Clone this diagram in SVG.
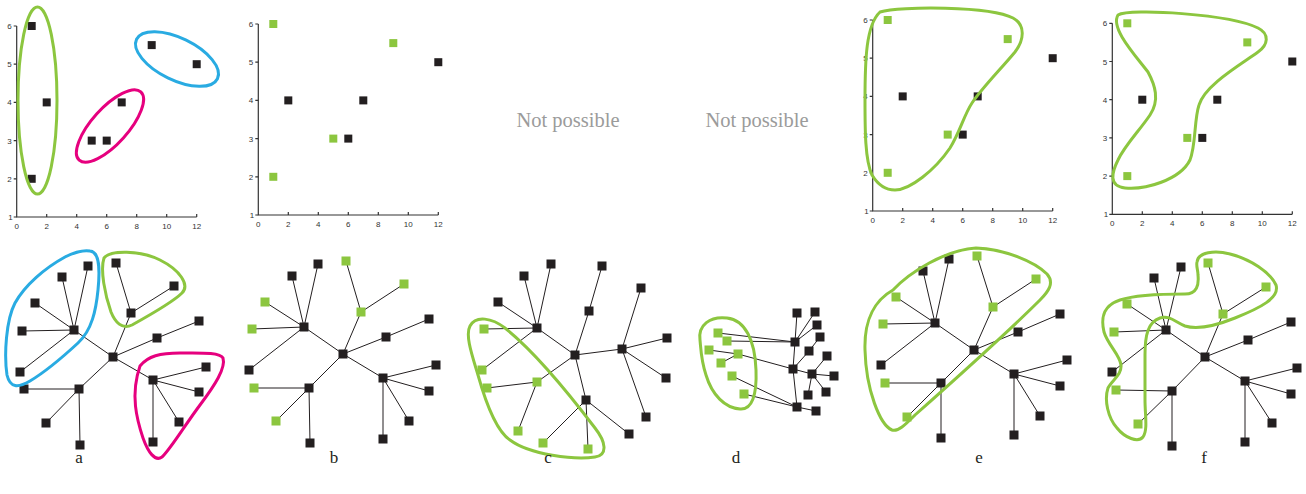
<svg xmlns="http://www.w3.org/2000/svg" xmlns:xlink="http://www.w3.org/1999/xlink" width="1306" height="494" viewBox="0 0 1306 494">
<style>
.ax{stroke:#333;stroke-width:1.2;fill:none}
.tl{font-family:"Liberation Sans",Arial,sans-serif;font-size:8px;fill:#333}
.e{stroke:#231f20;stroke-width:1;fill:none}
.ol{fill:none;stroke-width:3}
.gr{stroke:#8cc63f}
.bl{stroke:#29abe2}
.mg{stroke:#e6007e}
.np{font-family:"Liberation Serif","Times New Roman",serif;font-size:20.5px;fill:#9b9b9b}
.lb{font-family:"Liberation Serif","Times New Roman",serif;font-size:17px;fill:#231f20}
</style>
<defs>
<rect id="sk" x="-4.5" y="-4.5" width="9" height="9" fill="#231f20"/>
<rect id="sg" x="-4.5" y="-4.5" width="9" height="9" fill="#8cc63f"/>
<rect id="tk" x="-4" y="-4" width="8" height="8" fill="#231f20"/>
<rect id="tg" x="-4" y="-4" width="8" height="8" fill="#8cc63f"/>
<g id="axes">
<path class="ax" d="M0,-191 V0 H180"/>
<path class="ax" d="M-3,0H0M-3,-38.2H0M-3,-76.4H0M-3,-114.6H0M-3,-152.8H0M-3,-191H0M30,0V-3M60,0V-3M90,0V-3M120,0V-3M150,0V-3M180,0V-3"/>
<g class="tl" text-anchor="end">
<text x="-4" y="3">1</text><text x="-5" y="-35.2">2</text><text x="-5" y="-73.4">3</text><text x="-5" y="-111.6">4</text><text x="-5" y="-149.8">5</text><text x="-5" y="-188">6</text>
</g>
<g class="tl" text-anchor="middle">
<text x="0" y="12">0</text><text x="30" y="12">2</text><text x="60" y="12">4</text><text x="90" y="12">6</text><text x="120" y="12">8</text><text x="150" y="12">10</text><text x="180" y="12">12</text>
</g>
</g>
</defs>

<!-- Top plots -->
<g id="plot-a" transform="translate(16.7,217)">
<use href="#axes"/>
<g id="a-p1"><use href="#tk" x="15" y="-191"/></g>
<g id="a-p2"><use href="#tk" x="30" y="-114.6"/></g>
<g id="a-p3"><use href="#tk" x="15" y="-38.2"/></g>
<g id="a-p4"><use href="#tk" x="75" y="-76.4"/></g>
<g id="a-p5"><use href="#tk" x="90" y="-76.4"/></g>
<g id="a-p6"><use href="#tk" x="105" y="-114.6"/></g>
<g id="a-p7"><use href="#tk" x="135" y="-171.9"/></g>
<g id="a-p8"><use href="#tk" x="180" y="-152.8"/></g>
</g>
<g id="plot-b" transform="translate(258.3,215)">
<use href="#axes"/>
<g id="b-p1"><use href="#tg" x="15" y="-191"/></g>
<g id="b-p2"><use href="#tg" x="135" y="-171.9"/></g>
<g id="b-p3"><use href="#tg" x="75" y="-76.4"/></g>
<g id="b-p4"><use href="#tg" x="15" y="-38.2"/></g>
<g id="b-p5"><use href="#tk" x="180" y="-152.8"/></g>
<g id="b-p6"><use href="#tk" x="30" y="-114.6"/></g>
<g id="b-p7"><use href="#tk" x="105" y="-114.6"/></g>
<g id="b-p8"><use href="#tk" x="90" y="-76.4"/></g>
</g>
<g id="plot-e" transform="translate(872.7,211)">
<use href="#axes"/>
<g id="e-p1"><use href="#tg" x="15" y="-191"/></g>
<g id="e-p2"><use href="#tg" x="135" y="-171.9"/></g>
<g id="e-p3"><use href="#tg" x="75" y="-76.4"/></g>
<g id="e-p4"><use href="#tg" x="15" y="-38.2"/></g>
<g id="e-p5"><use href="#tk" x="180" y="-152.8"/></g>
<g id="e-p6"><use href="#tk" x="30" y="-114.6"/></g>
<g id="e-p7"><use href="#tk" x="105" y="-114.6"/></g>
<g id="e-p8"><use href="#tk" x="90" y="-76.4"/></g>
</g>
<g id="plot-f" transform="translate(1112.3,214.3)">
<use href="#axes"/>
<g id="f-p1"><use href="#tg" x="15" y="-191"/></g>
<g id="f-p2"><use href="#tg" x="135" y="-171.9"/></g>
<g id="f-p3"><use href="#tg" x="75" y="-76.4"/></g>
<g id="f-p4"><use href="#tg" x="15" y="-38.2"/></g>
<g id="f-p5"><use href="#tk" x="180" y="-152.8"/></g>
<g id="f-p6"><use href="#tk" x="30" y="-114.6"/></g>
<g id="f-p7"><use href="#tk" x="105" y="-114.6"/></g>
<g id="f-p8"><use href="#tk" x="90" y="-76.4"/></g>
</g>

<text class="np" x="568" y="127" text-anchor="middle">Not possible</text>
<text class="np" x="757" y="127" text-anchor="middle">Not possible</text>

<!-- Connectors -->
<g id="connectors" class="e">
<path id="edges-a" d="M113,357L74,330M113,357L131,313M113,357L153,380M113,357L79,389M113,357L157,338M157,338L199,321M74,330L88,266M74,330L62,277M74,330L35,303M74,330L22,331M74,330L20,372M131,313L116,263M131,313L174,286M153,380L206,367M153,380L199,392M153,380L179,422M153,380L153,442M79,389L24,389M79,389L46,423M79,389L80,445"/>
<path id="edges-b" d="M343,354L304,327M343,354L361,312M343,354L383,378M343,354L309,388M343,354L386,337M386,337L429,319M304,327L318,264M304,327L292,276M304,327L265,302M304,327L252,329M304,327L249,370M361,312L346,261M361,312L404,284M383,378L436,365M383,378L429,391M383,378L409,421M383,378L383,439M309,388L254,388M309,388L276,421M309,388L310,443"/>
<path id="edges-c" d="M537,328L575,355M575,355L589,311M589,311L602,266M575,355L622,349M622,349L641,288M622,349L667,338M622,349L666,378M622,349L646,417M575,355L586,400M586,400L629,434M586,400L588,449M586,400L543,443M575,355L537,382M537,382L487,388M537,382L518,431M537,328L524,276M537,328L551,264M537,328L498,302M537,328L484,329M537,328L482,370"/>
<path id="edges-d" d="M795,342L793,369M793,369L797,407M795,342L797,313M795,342L815,312M795,342L817,325M793,369L809,351M809,351L820,337M793,369L812,374M812,374L827,356M812,374L834,376M812,374L826,392M812,374L808,395M797,407L816,411M718,333L795,342M727,341L795,342M709,350L738,354M738,354L721,363M738,354L793,369M732,376L797,407M744,394L797,407"/>
<path id="edges-e" d="M974,350L935,323M974,350L993,307M974,350L1014,374M974,350L941,383M974,350L1018,332M1018,332L1060,314M935,323L949,259M935,323L923,271M935,323L896,297M935,323L883,324M935,323L881,365M993,307L977,256M993,307L1036,279M1014,374L1067,360M1014,374L1060,386M1014,374L1040,416M1014,374L1014,435M941,383L885,383M941,383L907,417M941,383L941,438"/>
<path id="edges-f" d="M1205,357L1166,330M1205,357L1223,314M1205,357L1245,381M1205,357L1172,391M1205,357L1248,340M1248,340L1291,322M1166,330L1181,267M1166,330L1154,278M1166,330L1127,304M1166,330L1114,332M1166,330L1112,372M1223,314L1208,263M1223,314L1266,287M1245,381L1297,368M1245,381L1291,394M1245,381L1272,423M1245,381L1245,442M1172,391L1116,390M1172,391L1138,424M1172,391L1172,446"/>
</g>

<!-- Tree a -->
<g id="tree-a">
<g id="ta-c"><use href="#sk" x="113" y="357"/></g>
<g id="ta-b"><use href="#sk" x="74" y="330"/></g>
<g id="ta-g"><use href="#sk" x="131" y="313"/></g>
<g id="ta-m"><use href="#sk" x="153" y="380"/></g>
<g id="ta-l"><use href="#sk" x="79" y="389"/></g>
<g id="ta-r"><use href="#sk" x="157" y="338"/></g>
<g id="ta-r1"><use href="#sk" x="199" y="321"/></g>
<g id="ta-b1"><use href="#sk" x="88" y="266"/></g>
<g id="ta-b2"><use href="#sk" x="62" y="277"/></g>
<g id="ta-b3"><use href="#sk" x="35" y="303"/></g>
<g id="ta-b4"><use href="#sk" x="22" y="331"/></g>
<g id="ta-b5"><use href="#sk" x="20" y="372"/></g>
<g id="ta-g1"><use href="#sk" x="116" y="263"/></g>
<g id="ta-g2"><use href="#sk" x="174" y="286"/></g>
<g id="ta-m1"><use href="#sk" x="206" y="367"/></g>
<g id="ta-m2"><use href="#sk" x="199" y="392"/></g>
<g id="ta-m3"><use href="#sk" x="179" y="422"/></g>
<g id="ta-m4"><use href="#sk" x="153" y="442"/></g>
<g id="ta-l1"><use href="#sk" x="24" y="389"/></g>
<g id="ta-l2"><use href="#sk" x="46" y="423"/></g>
<g id="ta-l3"><use href="#sk" x="80" y="445"/></g>
</g>

<!-- Tree b -->
<g id="tree-b">
<g id="tb-c"><use href="#sk" x="343" y="354"/></g>
<g id="tb-b"><use href="#sk" x="304" y="327"/></g>
<g id="tb-g"><use href="#sg" x="361" y="312"/></g>
<g id="tb-m"><use href="#sk" x="383" y="378"/></g>
<g id="tb-l"><use href="#sk" x="309" y="388"/></g>
<g id="tb-r"><use href="#sk" x="386" y="337"/></g>
<g id="tb-r1"><use href="#sk" x="429" y="319"/></g>
<g id="tb-b1"><use href="#sk" x="318" y="264"/></g>
<g id="tb-b2"><use href="#sk" x="292" y="276"/></g>
<g id="tb-b3"><use href="#sg" x="265" y="302"/></g>
<g id="tb-b4"><use href="#sg" x="252" y="329"/></g>
<g id="tb-b5"><use href="#sk" x="249" y="370"/></g>
<g id="tb-g1"><use href="#sg" x="346" y="261"/></g>
<g id="tb-g2"><use href="#sg" x="404" y="284"/></g>
<g id="tb-m1"><use href="#sk" x="436" y="365"/></g>
<g id="tb-m2"><use href="#sk" x="429" y="391"/></g>
<g id="tb-m3"><use href="#sk" x="409" y="421"/></g>
<g id="tb-m4"><use href="#sk" x="383" y="439"/></g>
<g id="tb-l1"><use href="#sg" x="254" y="388"/></g>
<g id="tb-l2"><use href="#sg" x="276" y="421"/></g>
<g id="tb-l3"><use href="#sk" x="310" y="443"/></g>
</g>

<!-- Tree c -->
<g id="tree-c">
<g id="tc-a"><use href="#sk" x="537" y="328"/></g>
<g id="tc-c"><use href="#sk" x="575" y="355"/></g>
<g id="tc-d"><use href="#sk" x="589" y="311"/></g>
<g id="tc-d1"><use href="#sk" x="602" y="266"/></g>
<g id="tc-e"><use href="#sk" x="622" y="349"/></g>
<g id="tc-e1"><use href="#sk" x="641" y="288"/></g>
<g id="tc-e2"><use href="#sk" x="667" y="338"/></g>
<g id="tc-e3"><use href="#sk" x="666" y="378"/></g>
<g id="tc-e4"><use href="#sk" x="646" y="417"/></g>
<g id="tc-f"><use href="#sk" x="586" y="400"/></g>
<g id="tc-f1"><use href="#sk" x="629" y="434"/></g>
<g id="tc-f2"><use href="#sg" x="588" y="449"/></g>
<g id="tc-f3"><use href="#sg" x="543" y="443"/></g>
<g id="tc-g"><use href="#sg" x="537" y="382"/></g>
<g id="tc-g1"><use href="#sg" x="487" y="388"/></g>
<g id="tc-g2"><use href="#sg" x="518" y="431"/></g>
<g id="tc-a1"><use href="#sk" x="524" y="276"/></g>
<g id="tc-a2"><use href="#sk" x="551" y="264"/></g>
<g id="tc-a3"><use href="#sk" x="498" y="302"/></g>
<g id="tc-a4"><use href="#sg" x="484" y="329"/></g>
<g id="tc-a5"><use href="#sg" x="482" y="370"/></g>
</g>

<!-- Tree d -->
<g id="tree-d">
<g id="td-h1"><use href="#sk" x="795" y="342"/></g>
<g id="td-h2"><use href="#sk" x="793" y="369"/></g>
<g id="td-h3"><use href="#sk" x="797" y="407"/></g>
<g id="td-h4"><use href="#sk" x="812" y="374"/></g>
<g id="td-k1"><use href="#sk" x="797" y="313"/></g>
<g id="td-k2"><use href="#sk" x="815" y="312"/></g>
<g id="td-k3"><use href="#sk" x="817" y="325"/></g>
<g id="td-k4"><use href="#sk" x="809" y="351"/></g>
<g id="td-k5"><use href="#sk" x="820" y="337"/></g>
<g id="td-k6"><use href="#sk" x="827" y="356"/></g>
<g id="td-k7"><use href="#sk" x="834" y="376"/></g>
<g id="td-k8"><use href="#sk" x="826" y="392"/></g>
<g id="td-k9"><use href="#sk" x="808" y="395"/></g>
<g id="td-k10"><use href="#sk" x="816" y="411"/></g>
<g id="td-g1"><use href="#sg" x="718" y="333"/></g>
<g id="td-g2"><use href="#sg" x="727" y="341"/></g>
<g id="td-g3"><use href="#sg" x="709" y="350"/></g>
<g id="td-g4"><use href="#sg" x="738" y="354"/></g>
<g id="td-g5"><use href="#sg" x="721" y="363"/></g>
<g id="td-g6"><use href="#sg" x="732" y="376"/></g>
<g id="td-g7"><use href="#sg" x="744" y="394"/></g>
</g>

<!-- Tree e -->
<g id="tree-e">
<g id="te-c"><use href="#sk" x="974" y="350"/></g>
<g id="te-b"><use href="#sk" x="935" y="323"/></g>
<g id="te-g"><use href="#sg" x="993" y="307"/></g>
<g id="te-m"><use href="#sk" x="1014" y="374"/></g>
<g id="te-l"><use href="#sk" x="941" y="383"/></g>
<g id="te-r"><use href="#sk" x="1018" y="332"/></g>
<g id="te-r1"><use href="#sk" x="1060" y="314"/></g>
<g id="te-b1"><use href="#sk" x="949" y="259"/></g>
<g id="te-b2"><use href="#sk" x="923" y="271"/></g>
<g id="te-b3"><use href="#sg" x="896" y="297"/></g>
<g id="te-b4"><use href="#sg" x="883" y="324"/></g>
<g id="te-b5"><use href="#sk" x="881" y="365"/></g>
<g id="te-g1"><use href="#sg" x="977" y="256"/></g>
<g id="te-g2"><use href="#sg" x="1036" y="279"/></g>
<g id="te-m1"><use href="#sk" x="1067" y="360"/></g>
<g id="te-m2"><use href="#sk" x="1060" y="386"/></g>
<g id="te-m3"><use href="#sk" x="1040" y="416"/></g>
<g id="te-m4"><use href="#sk" x="1014" y="435"/></g>
<g id="te-l1"><use href="#sg" x="885" y="383"/></g>
<g id="te-l2"><use href="#sg" x="907" y="417"/></g>
<g id="te-l3"><use href="#sk" x="941" y="438"/></g>
</g>

<!-- Tree f -->
<g id="tree-f">
<g id="tf-c"><use href="#sk" x="1205" y="357"/></g>
<g id="tf-b"><use href="#sk" x="1166" y="330"/></g>
<g id="tf-g"><use href="#sg" x="1223" y="314"/></g>
<g id="tf-m"><use href="#sk" x="1245" y="381"/></g>
<g id="tf-l"><use href="#sk" x="1172" y="391"/></g>
<g id="tf-r"><use href="#sk" x="1248" y="340"/></g>
<g id="tf-r1"><use href="#sk" x="1291" y="322"/></g>
<g id="tf-b1"><use href="#sk" x="1181" y="267"/></g>
<g id="tf-b2"><use href="#sk" x="1154" y="278"/></g>
<g id="tf-b3"><use href="#sg" x="1127" y="304"/></g>
<g id="tf-b4"><use href="#sg" x="1114" y="332"/></g>
<g id="tf-b5"><use href="#sk" x="1112" y="372"/></g>
<g id="tf-g1"><use href="#sg" x="1208" y="263"/></g>
<g id="tf-g2"><use href="#sg" x="1266" y="287"/></g>
<g id="tf-m1"><use href="#sk" x="1297" y="368"/></g>
<g id="tf-m2"><use href="#sk" x="1291" y="394"/></g>
<g id="tf-m3"><use href="#sk" x="1272" y="423"/></g>
<g id="tf-m4"><use href="#sk" x="1245" y="442"/></g>
<g id="tf-l1"><use href="#sg" x="1116" y="390"/></g>
<g id="tf-l2"><use href="#sg" x="1138" y="424"/></g>
<g id="tf-l3"><use href="#sk" x="1172" y="446"/></g>
</g>

<!-- Outlines -->
<g id="outlines">
<ellipse class="ol gr" cx="37.5" cy="100.5" rx="19.5" ry="93.5"/>
<ellipse class="ol bl" cx="177" cy="59" rx="45" ry="21" transform="rotate(26 177 59)"/>
<ellipse class="ol mg" cx="110" cy="126" rx="46" ry="18" transform="rotate(-48 110 126)"/>
<path class="ol gr" d="M880,12 C900,6 990,6 1013,18 C1026,25 1024,40 1015,52 C1000,70 982,88 972,103 C964,115 960,132 950,148 C935,170 910,190 895,190 C885,190 878,185 872,175 C865,160 865,130 865,100 C865,60 866,25 880,12 Z"/>
<path class="ol gr" d="M1118,15 C1130,8 1230,14 1258,28 C1270,34 1268,45 1258,52 C1240,65 1205,85 1199,105 C1194,120 1196,145 1190,160 C1180,180 1145,190 1125,188 C1108,186 1112,172 1118,160 C1125,145 1140,130 1150,115 C1160,100 1155,85 1148,72 C1135,55 1110,28 1118,15 Z"/>
<path class="ol bl" d="M90,251 C100,252 100,270 98,290 C96,310 92,330 78,343 C65,355 45,372 30,381 C18,388 10,388 7,375 C4,355 6,320 15,303 C25,285 45,268 65,257 C75,252 84,250 90,251 Z"/>
<path class="ol gr" d="M104,258 C110,250 140,250 160,260 C180,270 190,285 182,293 C175,300 150,315 132,325 C122,330 115,322 111,312 C105,295 100,270 104,258 Z"/>
<path class="ol mg" d="M140,366 C148,356 160,353 180,353 C200,353 220,352 223,358 C226,368 215,385 200,405 C185,425 170,450 162,457 C155,462 148,452 143,438 C137,420 130,395 140,366 Z"/>
<path class="ol gr" d="M470,326 C476,315 492,318 505,328 C535,352 570,395 595,428 C606,442 608,455 595,457 C575,460 530,455 510,440 C495,430 485,400 478,375 C472,355 465,335 470,326 Z"/>
<path class="ol gr" d="M700,340 C698,325 710,316 727,318 C745,320 755,340 756,370 C757,395 752,410 740,409 C725,408 712,395 706,375 C701,360 701,350 700,340 Z"/>
<path class="ol gr" d="M976,248 C1005,249 1035,262 1047,274 C1055,283 1048,292 1040,300 C1010,330 960,375 915,415 C905,425 898,432 892,430 C880,425 866,390 865,350 C864,320 875,300 893,290 C910,272 945,250 976,248 Z"/>
<path class="ol gr" d="M1197,262 C1198,252 1215,250 1230,254 C1250,259 1270,272 1276,285 C1280,298 1260,308 1235,318 C1215,326 1198,330 1185,326 C1175,322 1170,315 1160,318 C1148,322 1145,335 1145,355 L1145,400 C1145,415 1148,430 1143,437 C1138,443 1125,438 1117,428 C1108,418 1104,400 1108,388 C1112,380 1122,375 1121,365 C1120,355 1108,345 1104,332 C1100,315 1105,305 1120,300 C1135,295 1165,294 1185,294 C1197,294 1199,285 1198,275 C1198,270 1196,266 1197,262 Z"/>
</g>

<!-- Labels -->
<g id="labels" class="lb" text-anchor="middle">
<text x="79" y="463">a</text>
<text x="334" y="463">b</text>
<text x="548" y="463">c</text>
<text x="736" y="463">d</text>
<text x="979" y="463">e</text>
<text x="1204" y="463">f</text>
</g>
</svg>
